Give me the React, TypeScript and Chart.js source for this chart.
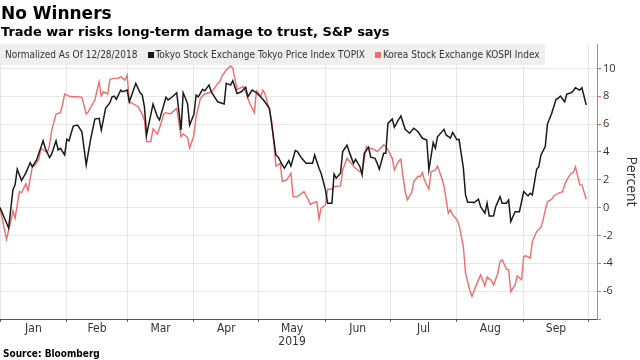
import { useEffect, useRef } from 'react';
import { Chart, registerables } from 'chart.js';

Chart.register(...registerables);

// x values are days since Jan 1, 2019 (Jan 1 = 0)
const monthLabels = ['Jan', 'Feb', 'Mar', 'Apr', 'May', 'Jun', 'Jul', 'Aug', 'Sep'];
const monthStartDays = [0, 31, 59, 90, 120, 151, 181, 212, 243, 273];
const yearLabel = '2019';
const yearUnderMonth = 'May';
const yTickLabels = [-6, -4, -2, 0, 2, 4, 6, 8, 10];

const topixDays = [
  0, 4, 6, 7, 8, 10, 12, 14, 15, 17,
  20, 21, 23, 24, 26, 27, 28, 30, 31, 32,
  34, 36, 38, 40, 42, 44, 46, 47, 49, 51,
  52, 53, 54, 56, 57, 59, 60, 63, 65, 66,
  67, 68, 71, 73, 74, 77, 78, 80, 82, 84,
  85, 87, 88, 90, 91, 92, 94, 95, 97, 98,
  101, 104, 105, 107, 108, 110, 112, 114, 115, 117,
  119, 122, 125, 126, 128, 129, 131, 132, 134, 135,
  137, 138, 140, 142, 145, 146, 148, 149, 151, 152,
  154, 155, 156, 158, 159, 161, 162, 164, 165, 167,
  168, 169, 171, 172, 174, 175, 176, 178, 179, 180,
  182, 183, 185, 186, 188, 190, 192, 194, 196, 198,
  199, 201, 202, 203, 206, 207, 209, 210, 212, 213,
  215, 216, 217, 219, 220, 222, 223, 225, 226, 227,
  229, 230, 232, 233, 235, 236, 237, 239, 241, 243,
  245, 246, 247, 249, 250, 251, 253, 254, 256, 258,
  259, 260, 262, 263, 265, 266, 267, 269, 270, 272,
];
const topixValues = [
  0, -1.46, 1.27, 1.63, 2.75, 1.94, 2.5, 3.23, 2.94, 3.42,
  4.8, 4.26, 3.59, 3.85, 4.8, 4.14, 4.26, 3.78, 4.9, 4.8,
  5.86, 5.93, 5.45, 3.06, 4.86, 6.36, 6.41, 5.57, 7.13, 7.53,
  7.96, 8.01, 7.78, 8.44, 8.32, 8.44, 7.6, 8.92, 8.25, 8.08,
  7.25, 5.22, 7.44, 6.53, 6.29, 7.92, 7.73, 7.96, 8.25, 5.57,
  8.25, 7.49, 5.93, 6.72, 8.08, 7.96, 8.49, 8.39, 8.8, 8.32,
  7.6, 7.44, 8.92, 8.8, 9.11, 8.2, 8.32, 8.64, 7.96, 8.44,
  8.25, 7.78, 7.13, 6.05, 3.78, 3.66, 3.06, 2.83, 3.37, 2.99,
  4.09, 4.02, 3.54, 3.18, 3.18, 3.78, 2.83, 2.47, 1.27, 0.32,
  0.32, 2.42, 2.11, 2.47, 4.02, 4.48, 4.02, 3.18, 3.47, 2.94,
  2.35, 3.9, 4.33, 3.62, 3.54, 3.18, 2.75, 3.9, 3.9, 6.05,
  6.36, 5.77, 6.34, 6.58, 5.62, 5.34, 5.7, 5.45, 4.98, 4.86,
  2.7, 4.66, 4.26, 5.09, 5.62, 5.22, 5.0, 5.4, 4.88, 4.9,
  2.83, 0.91, 0.39, 0.39, 0.36, 0.6, 0.07, -0.4, 0.32, -0.6,
  -0.6, 0.07, 0.79, 0.32, 0.32, 0.55, -1.0, -0.29, -0.29, 1.15,
  0.84, 1.03, 0.91, 2.75, 2.94, 3.78, 4.38, 6.0, 6.77, 7.78,
  7.85, 8.01, 7.6, 8.16, 8.25, 8.39, 8.61, 8.44, 8.61, 7.37,
];

const kospiDays = [
  0, 3, 5, 6, 7, 9, 10, 12, 13, 15,
  16, 18, 19, 22, 23, 24, 26, 28, 29, 30,
  32, 34, 36, 38, 40, 41, 44, 46, 47, 48,
  50, 51, 53, 55, 56, 58, 59, 60, 62, 64,
  66, 67, 68, 70, 71, 73, 74, 76, 77, 79,
  81, 82, 84, 85, 87, 88, 90, 91, 93, 95,
  97, 99, 101, 102, 103, 105, 107, 108, 110, 111,
  113, 115, 116, 118, 119, 121, 122, 123, 125, 126,
  127, 128, 130, 131, 133, 135, 136, 138, 140, 141,
  143, 144, 145, 147, 148, 149, 151, 152, 154, 155,
  158, 159, 161, 162, 164, 165, 167, 168, 170, 172,
  174, 175, 178, 179, 180, 182, 183, 185, 186, 187,
  188, 189, 191, 192, 194, 195, 196, 197, 199, 200,
  202, 203, 205, 206, 208, 209, 210, 212, 213, 215,
  216, 218, 219, 220, 222, 223, 225, 226, 228, 229,
  231, 232, 233, 235, 236, 237, 239, 240, 242, 243,
  244, 246, 247, 249, 251, 252, 253, 254, 256, 257,
  259, 261, 262, 263, 265, 266, 267, 269, 270, 272,
];
const kospiValues = [
  0, -2.27, -1.0, -0.22, -0.76, 1.15, 1.08, 1.7, 1.22, 2.94,
  2.99, 3.47, 4.26, 3.95, 4.5, 5.57, 6.72, 6.82, 7.37, 8.16,
  8.01, 7.96, 7.96, 7.92, 6.72, 6.89, 7.73, 9.04, 8.01, 8.32,
  8.16, 9.21, 9.28, 9.28, 9.4, 9.16, 9.52, 7.6, 7.44, 7.25,
  6.72, 6.29, 4.74, 4.74, 5.66, 5.28, 5.7, 6.72, 6.82, 6.72,
  7.0, 7.13, 5.09, 5.29, 5.05, 4.26, 5.22, 6.53, 7.85, 8.16,
  8.25, 8.44, 8.92, 9.04, 9.45, 9.88, 10.17, 10.0, 8.49, 8.56,
  8.68, 7.85, 7.44, 6.82, 8.39, 8.01, 8.44, 8.16, 7.0, 6.29,
  4.74, 2.99, 3.18, 1.87, 1.99, 2.47, 0.79, 0.79, 1.03, 1.15,
  0.58, 0.23, 0.32, 0.43, -0.83, -0.04, 0.19, 1.32, 1.32, 1.51,
  1.56, 2.7, 3.54, 3.37, 2.99, 2.83, 2.58, 2.58, 4.38, 4.26,
  4.14, 4.02, 4.5, 4.43, 4.14, 3.54, 2.7, 3.37, 3.47, 2.22,
  1.15, 0.55, 1.08, 1.87, 2.27, 2.22, 2.51, 1.94, 1.32, 2.58,
  2.7, 2.99, 2.11, 1.56, -0.4, -0.15, -0.5, -0.88, -1.24, -2.8,
  -4.71, -5.95, -6.38, -5.95, -5.19, -4.83, -5.62, -4.99, -5.24, -5.55,
  -4.71, -3.87, -3.75, -4.42, -4.47, -6.03, -5.55, -4.9, -5.19, -3.51,
  -3.46, -3.63, -2.44, -1.72, -1.41, -0.88, -0.17, 0.43, 0.6, 0.84,
  1.03, 1.15, 1.63, 1.99, 2.47, 2.51, 2.94, 1.63, 1.63, 0.6,
];

const titleText = 'No Winners';
const subtitleText = 'Trade war risks long-term damage to trust, S&P says';
const noteText = 'Normalized As Of 12/28/2018';
const topixName = 'Tokyo Stock Exchange Tokyo Price Index TOPIX';
const kospiName = 'Korea Stock Exchange KOSPI Index';
const sourceText = 'Source: Bloomberg';
const yTitle = 'Percent';

const BLACK = '#1a1a1a';
const RED = '#f26b6b';
const COND = "'DejaVu Sans Condensed', 'DejaVu Sans', sans-serif";
const SANS = "'DejaVu Sans', sans-serif";

export default function App() {
  const ref = useRef<HTMLCanvasElement>(null);

  useEffect(() => {
    document.body.style.margin = '0';
    const mids = monthLabels.map((_, i) => (monthStartDays[i] + monthStartDays[i + 1]) / 2);
    const xTicks = [...monthStartDays, ...mids].sort((a, b) => a - b);
    const isBoundary = (v: number) => monthStartDays.includes(v);
    const labelFor = (v: number) => {
      const i = mids.indexOf(v);
      if (i < 0) return '';
      return monthLabels[i] === yearUnderMonth ? [monthLabels[i], yearLabel] : monthLabels[i];
    };
    const yTicks: number[] = [];
    for (let v = -8; v <= 11; v++) yTicks.push(v);

    const chart = new Chart(ref.current as HTMLCanvasElement, {
      type: 'line',
      data: {
        datasets: [
          {
            label: topixName,
            data: topixDays.map((d, i) => ({ x: d, y: topixValues[i] })),
            borderColor: BLACK,
            borderWidth: 1.5,
            pointRadius: 0,
            tension: 0,
          },
          {
            label: kospiName,
            data: kospiDays.map((d, i) => ({ x: d, y: kospiValues[i] })),
            borderColor: RED,
            borderWidth: 1.4,
            pointRadius: 0,
            tension: 0,
          },
        ],
      },
      options: {
        animation: false,
        responsive: false,
        layout: { padding: { top: 44, left: 0, right: 0, bottom: 0 } },
        plugins: { legend: { display: false }, tooltip: { enabled: false } },
        scales: {
          x: {
            type: 'linear',
            min: 0,
            max: 277,
            afterBuildTicks: (s: any) => {
              s.ticks = xTicks.map((v) => ({ value: v }));
            },
            afterFit: (s: any) => {
              s.height = 41;
            },
            grid: {
              color: (c: any) => (c.tick && isBoundary(c.tick.value) ? '#e6e6e6' : 'rgba(0,0,0,0)'),
              tickColor: (c: any) => (c.tick && isBoundary(c.tick.value) ? '#666' : 'rgba(0,0,0,0)'),
              tickLength: 3,
            },
            border: { color: '#555', width: 1 },
            ticks: {
              autoSkip: false,
              maxRotation: 0,
              minRotation: 0,
              padding: 0,
              color: '#333',
              font: { family: COND, size: 12, lineHeight: 1.1 },
              callback: (v: any) => labelFor(Number(v)),
            },
          },
          y: {
            position: 'right',
            min: -8,
            max: 11.75,
            afterBuildTicks: (s: any) => {
              s.ticks = yTicks.map((v) => ({ value: v }));
            },
            afterFit: (s: any) => {
              s.width = 43;
            },
            grid: {
              color: (c: any) =>
                c.tick && yTickLabels.includes(c.tick.value) ? '#e6e6e6' : 'rgba(0,0,0,0)',
              tickColor: RED,
              tickLength: 4,
            },
            border: { color: RED, width: 1 },
            ticks: {
              padding: 2,
              color: '#333',
              font: { family: "'Open Sans', sans-serif", size: 11 },
              callback: (v: any) => (yTickLabels.includes(Number(v)) ? String(v) : ''),
            },
            title: {
              display: true,
              text: yTitle,
              color: '#333',
              font: { family: "'Open Sans', sans-serif", size: 14 },
              padding: { top: 1, bottom: 0 },
            },
          },
        },
      },
    } as any);
    return () => chart.destroy();
  }, []);

  const cond: any = { fontFamily: COND, fontStretch: 'condensed' };

  return (
    <div style={{ position: 'relative', width: 640, height: 360, background: '#fff', overflow: 'hidden' }}>
      <canvas ref={ref} width={640} height={360} style={{ position: 'absolute', left: 0, top: 0 }} />
      <div style={{ fontFamily: SANS, position: 'absolute', left: 1, top: 5, fontSize: 17, lineHeight: '17px', fontWeight: 'bold', color: '#000', whiteSpace: 'nowrap' }}>
        {titleText}
      </div>
      <div style={{ fontFamily: SANS, position: 'absolute', left: 1, top: 25, fontSize: 13, lineHeight: '13px', fontWeight: 'bold', color: '#000', whiteSpace: 'nowrap' }}>
        {subtitleText}
      </div>
      <div
        style={{
          ...cond,
          position: 'absolute',
          left: 0,
          top: 44,
          width: 545,
          height: 21,
          background: '#efefef',
          display: 'flex',
          alignItems: 'center',
          fontSize: 10,
          color: '#333',
          whiteSpace: 'nowrap',
          boxSizing: 'border-box',
          paddingLeft: 5,
        }}
      >
        <span>{noteText}</span>
        <span style={{ display: 'inline-block', width: 6, height: 6, background: BLACK, marginLeft: 10, marginRight: 2 }} />
        <span>{topixName}</span>
        <span style={{ display: 'inline-block', width: 6, height: 6, background: RED, marginLeft: 10, marginRight: 2 }} />
        <span>{kospiName}</span>
      </div>
      <div style={{ ...cond, position: 'absolute', left: 3, top: 349, fontSize: 10, lineHeight: '10px', fontWeight: 'bold', color: '#000', whiteSpace: 'nowrap' }}>
        {sourceText}
      </div>
    </div>
  );
}
